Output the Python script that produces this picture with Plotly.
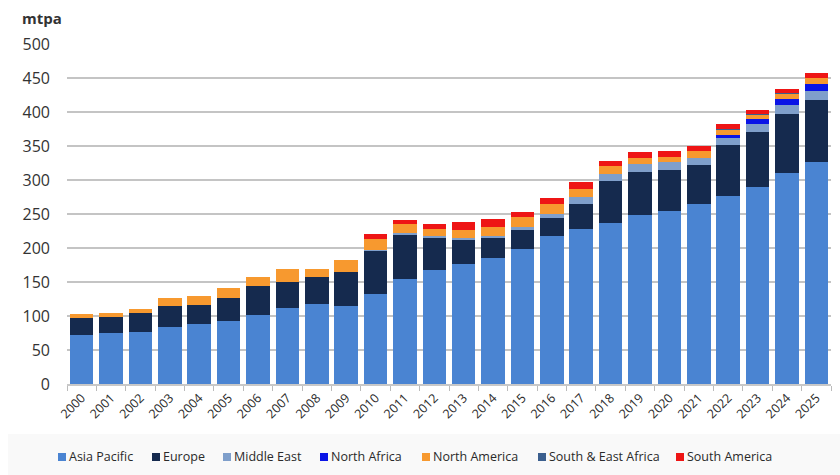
import plotly.graph_objects as go

years = [str(y) for y in range(2000, 2026)]

asia_pacific = [72, 74.5, 77, 84, 88, 92, 101.5, 112, 117, 114.5, 132, 154, 167.5, 176, 186, 199, 217.5, 228, 237, 248, 255, 264, 276, 289, 310, 326]
europe = [24.5, 24.5, 28, 30, 28, 35, 42.5, 38.5, 41, 49.5, 64, 65, 47.5, 36, 28, 28, 26.5, 37, 62, 64, 60, 58, 75, 81, 87, 91]
middle_east = [0, 0, 0, 0, 0, 0, 0, 0, 0, 0, 1, 3, 2.5, 3, 4, 4.5, 6, 9.5, 10, 11, 11, 10, 10.5, 13, 14, 14.5]
north_africa = [0, 0, 0, 0, 0, 0, 0, 0, 0, 0, 0, 0, 0, 0, 0, 0, 0, 0, 0, 0, 0, 0, 4.5, 6, 7.5, 10]
north_america = [6, 6, 6, 12, 14, 14, 14, 19, 11.5, 18, 16, 13.5, 10.5, 12, 13, 13.5, 15, 13, 11, 10, 8, 10, 8.5, 7.5, 8.5, 8.5]
south_east_africa = [0, 0, 0, 0, 0, 0, 0, 0, 0, 0, 0, 0, 0, 0, 0, 0, 0, 0, 0, 0, 0, 0, 0.5, 0.5, 0.5, 0.5]
south_america = [0, 0, 0, 0, 0, 0, 0, 0, 0, 0, 7, 6, 7.5, 11, 12, 7.5, 8.5, 9, 8, 8.5, 8.5, 8, 7.5, 6.5, 6, 7.5]

y_ticks = [0, 50, 100, 150, 200, 250, 300, 350, 400, 450, 500]

series_names = ["Asia Pacific", "Europe", "Middle East", "North Africa", "North America", "South & East Africa", "South America"]
series_values = [asia_pacific, europe, middle_east, north_africa, north_america, south_east_africa, south_america]
series_colors = ["#4a84d2", "#152a4e", "#7f9fcb", "#0a14e6", "#f7992f", "#3b5f8e", "#ee1515"]

# layout constants (pixels in the 840x475 page)
L, R, T, B = 67, 9, 44, 91
PW = 840 - L - R
PH = 475 - T - B
legend_px = [58, 152, 223, 320, 422, 538, 676]
legend_py = 457


def px2x(px):
    return (px - L) / PW


def py2y(py):
    return (475 - B - py) / PH


fig = go.Figure()
for name, vals, col in zip(series_names, series_values, series_colors):
    fig.add_trace(go.Bar(x=years, y=vals, name=name, marker=dict(color=col, line=dict(width=0))))

shapes = [dict(type="rect", xref="paper", yref="paper", x0=px2x(8), x1=px2x(842),
               y0=py2y(434), y1=py2y(478), fillcolor="#f9f9f9", line=dict(width=0), layer="below")]
annotations = [dict(
    text="<b>mtpa</b>", xref="paper", yref="paper", x=px2x(20), y=py2y(30),
    xanchor="left", yanchor="bottom", showarrow=False,
    font=dict(size=15, color="#333333", family="Open Sans"),
)]
for name, col, lx in zip(series_names, series_colors, legend_px):
    shapes.append(dict(type="rect", xref="paper", yref="paper",
                       x0=px2x(lx), x1=px2x(lx + 8), y0=py2y(legend_py + 4), y1=py2y(legend_py - 4),
                       fillcolor=col, line=dict(width=0)))
    annotations.append(dict(text=name, xref="paper", yref="paper", x=px2x(lx + 9), y=py2y(legend_py),
                            xanchor="left", yanchor="middle", showarrow=False,
                            font=dict(size=12.5, color="#2a2a2a", family="Open Sans")))

fig.update_layout(
    barmode="stack",
    bargap=0.2,
    width=840, height=475,
    margin=dict(l=L, r=R, t=T, b=B),
    paper_bgcolor="white",
    plot_bgcolor="white",
    font=dict(family="Open Sans", color="#333333"),
    showlegend=False,
    shapes=shapes,
    annotations=annotations,
)

fig.update_xaxes(
    type="category",
    tickangle=-45,
    tickfont=dict(size=12.5, color="#2a2a2a"),
    ticks="outside", tickson="boundaries", ticklen=5, tickcolor="#bbbbbb",
    showline=True, linecolor="#c8c8c8", linewidth=1.5,
    showgrid=False,
)
fig.update_yaxes(
    range=[0, 500],
    tickvals=y_ticks,
    tickfont=dict(size=16, color="#333333"),
    showgrid=True, gridcolor="#c4c4c4", gridwidth=1.5,
    zeroline=False,
    ticks="", ticklabelstandoff=16,
)

fig.write_html("out.html")
